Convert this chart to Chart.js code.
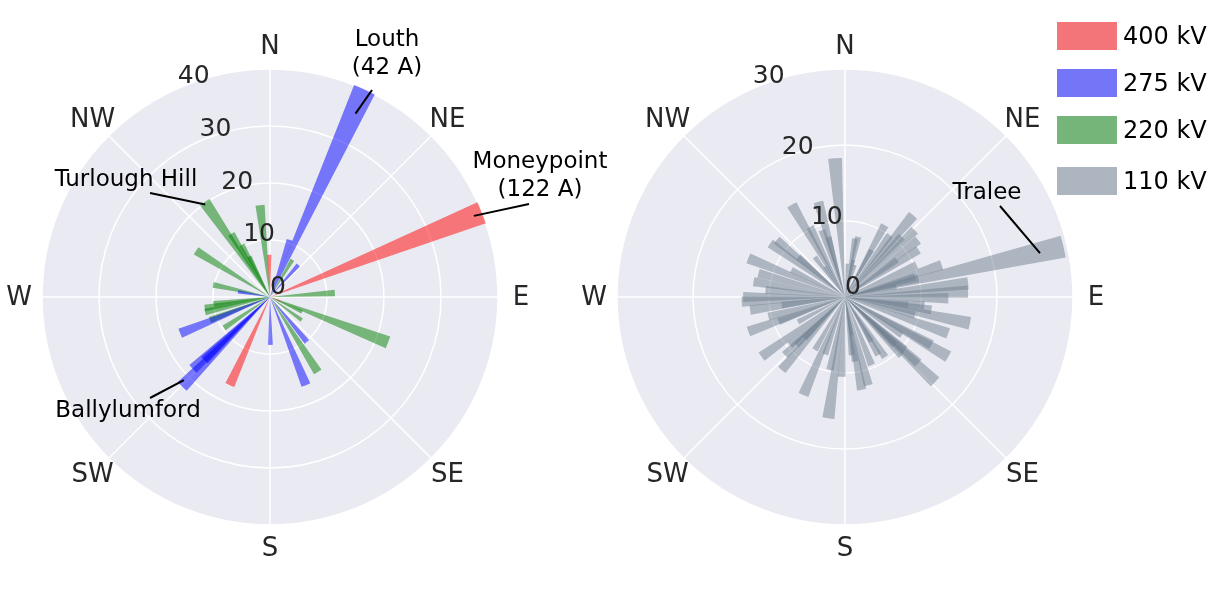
<!DOCTYPE html>
<html>
<head>
<meta charset="utf-8">
<script src="https://cdn.jsdelivr.net/npm/chart.js@4.4.0/dist/chart.umd.min.js"></script>
<style>
  html, body { margin: 0; padding: 0; background: #fff; }
  body { width: 1221px; height: 592px; position: relative; overflow: hidden; font-family: 'DejaVu Sans', sans-serif; }
  canvas { position: absolute; top: 0; }
  #leftChart { left: 0; }
  #rightChart { left: 575px; }
  .key { position: absolute; left: 1057px; width: 60px; height: 28px; }
  .keyText { position: absolute; left: 1123px; height: 28px; line-height: 28px; font-size: 24px; color: #000; }
</style>
</head>
<body>
<canvas id="leftChart" width="630" height="592"></canvas>
<canvas id="rightChart" width="540" height="592"></canvas>
<div id="legend"></div>
<script>
// compass directions and radial ticks
const compassLabels = ['N', 'NE', 'E', 'SE', 'S', 'SW', 'W', 'NW'];
const leftTicks = [0, 10, 20, 30, 40];
const rightTicks = [0, 10, 20, 30];

// bars: direction (degrees from north, clockwise) and current (A)
const kv400Angles = [359, 68.3, 204.5, 112];
const kv400Values = [7.4, 122, 17, 2];

const kv275Angles = [24.5, 19, 41.5, 179.5, 140.5, 157.8, 248, 224.5, 227, 226, 279];
const kv275Values = [42, 10.6, 7.5, 8.4, 10.2, 16.7, 17, 22, 18.5, 16, 5.7];

const kv220Angles = [325.5, 328.5, 331.5, 333, 353.8, 302, 282, 31, 86.5, 111, 147.5, 115, 126, 236, 249, 257, 260.5, 263];
const kv220Values = [20.2, 13, 10.4, 8, 16.2, 15.3, 10.2, 7.6, 11.4, 22.2, 15.6, 6.2, 6.9, 9.7, 11.3, 11.7, 11.6, 10];

const kv110Angles = [
  355.9, 344.4, 330, 333.5, 341, 344.5, 305.6, 309.8, 291.8, 285.3, 279.5, 275, 270, 296.9, 326.6,
  4, 12.4, 9.7, 12.6, 29, 36, 39.8, 46.3, 52.1, 57.3, 43.2, 71.7, 65.9, 77, 83.7, 87.5, 75.7, 78.7,
  90.7, 96, 97.2, 267.4, 262.2, 255.6, 250.3, 249.7, 234.4, 226, 220.9, 225.2, 203, 209.5, 187.8,
  182.4, 191.6, 169.8, 165.2, 158.6, 146.2, 150.1, 133.3, 132.1, 120, 109.4, 101.9, 118.9, 98.5,
  131.5, 133.8, 228.9, 171.2, 170, 135.7,
  323, 310.8, 17.4, 29.6, 54.4, 73.8, 199, 173.4, 224, 123.8, 242.1, 149.2, 104.4, 262.8
];
const kv110Values = [
  18.3, 13, 14, 10.3, 9.3, 8.2, 12.1, 11.7, 13.7, 11.8, 12.2, 10.5, 13.4, 7.9, 4.8,
  4.4, 8.1, 7.8, 5, 10.8, 10.1, 14, 12.7, 12.2, 11.5, 10.9, 13.4, 10.3, 29.5, 16.3, 16.2, 10, 6.9,
  13.6, 10.5, 8.4, 13.6, 12.6, 10.4, 13.5, 9.3, 13.5, 11, 12.7, 9, 14, 8, 16.1,
  10.5, 9.8, 12.4, 12, 9.6, 9.5, 8.8, 16.3, 13, 15.7, 14.4, 16.8, 13, 11.5,
  10.5, 9.1, 9.6, 8.6, 5.1, 10.7,
  6.6, 8.1, 4.4, 7.1, 8.4, 9.6, 8, 7.7, 7.6, 9, 7, 6.8, 9.5, 8.4
];

const legendLabels = ['400 kV', '275 kV', '220 kV', '110 kV'];
const legendColors = ['#f47579', '#7575f8', '#75b579', '#adb5c1'];
const barColors = ['rgba(255,0,0,0.5)', 'rgba(0,0,255,0.5)', 'rgba(0,128,0,0.5)', 'rgba(112,128,144,0.5)'];

const BAR_WIDTH = 5.7;
const FONT = '"DejaVu Sans", sans-serif';

// each bar is its own dataset: [gap, bar, rest of circle]
function barDatasets(angles, values, color, rMax) {
  return angles.map((a, i) => {
    let start = a - BAR_WIDTH / 2;
    if (start < 0) start += 360;
    const angs = [Math.max(start, 0.01), BAR_WIDTH, Math.max(360 - start - BAR_WIDTH, 0.01)];
    return {
      data: [0, Math.min(values[i], rMax), 0],
      angle: (ctx) => angs[ctx.dataIndex],
      backgroundColor: color,
      borderWidth: 0
    };
  });
}

function polarPos(scale, deg, dist) {
  const rad = (deg - 90) * Math.PI / 180;
  return { x: scale.xCenter + Math.cos(rad) * dist, y: scale.yCenter + Math.sin(rad) * dist };
}

function overlay(ticks, notes) {
  return {
    id: 'overlay',
    afterDraw(chart) {
      const s = chart.scales.r;
      const ctx = chart.ctx;
      ctx.save();
      ctx.fillStyle = '#262626';
      ctx.font = '26px ' + FONT;
      ctx.textAlign = 'center';
      ctx.textBaseline = 'middle';
      compassLabels.forEach((lab, i) => {
        const p = s.getPointPosition(i, s.drawingArea + 23);
        ctx.fillText(lab, p.x, p.y + 1);
      });

      ctx.font = '25px ' + FONT;
      ctx.textAlign = 'left';
      ctx.textBaseline = 'alphabetic';
      ticks.forEach(t => {
        const p = polarPos(s, 337.5, s.getDistanceFromCenterForValue(t));
        ctx.fillText(String(t), p.x - (t === 0 ? 0 : 5), p.y - 3);
      });

      ctx.fillStyle = '#000';
      ctx.strokeStyle = '#000';
      ctx.lineWidth = 2;
      ctx.font = '23px ' + FONT;
      ctx.textAlign = 'center';
      ctx.textBaseline = 'middle';
      notes.forEach(n => {
        n.lines.forEach((txt, k) => {
          ctx.fillText(txt, s.xCenter + n.tx, s.yCenter + n.ty + k * 28);
        });
        const end = polarPos(s, n.angle, s.getDistanceFromCenterForValue(n.value));
        ctx.beginPath();
        ctx.moveTo(s.xCenter + n.lx, s.yCenter + n.ly);
        ctx.lineTo(end.x, end.y);
        ctx.stroke();
      });
      ctx.restore();
    }
  };
}

function makeChart(id, datasets, rMax, ticks, notes, padRight) {
  return new Chart(document.getElementById(id), {
    type: 'polarArea',
    data: { labels: compassLabels, datasets: datasets },
    options: {
      responsive: false,
      animation: false,
      events: [],
      layout: { padding: { left: 42, right: padRight, top: 69, bottom: 67 } },
      plugins: { legend: { display: false }, tooltip: { enabled: false } },
      scales: {
        r: {
          min: 0,
          max: rMax,
          backgroundColor: '#eaeaf2',
          ticks: { display: false, stepSize: 10 },
          grid: { color: '#ffffff', lineWidth: 1.5, circular: true },
          angleLines: { display: true, color: '#ffffff', lineWidth: 1.5 },
          pointLabels: { display: false }
        }
      }
    },
    plugins: [overlay(ticks, notes)]
  });
}

const leftNotes = [
  { lines: ['Louth', '(42 A)'], tx: 117, ty: -257, lx: 102, ly: -207, angle: 25, value: 35.5 },
  { lines: ['Moneypoint', '(122 A)'], tx: 270, ty: -135, lx: 259, ly: -93, angle: 68.3, value: 38.5 },
  { lines: ['Turlough Hill'], tx: -144, ty: -117, lx: -120, ly: -104, angle: 325, value: 19.8 },
  { lines: ['Ballylumford'], tx: -142, ty: 114, lx: -120, ly: 101, angle: 226, value: 21 }
];
const rightNotes = [
  { lines: ['Tralee'], tx: 142, ty: -104, lx: 155, ly: -91, angle: 77.3, value: 26.3 }
];

makeChart('leftChart', [].concat(
  barDatasets(kv400Angles, kv400Values, barColors[0], 40),
  barDatasets(kv275Angles, kv275Values, barColors[1], 40),
  barDatasets(kv220Angles, kv220Values, barColors[2], 40)
), 40, leftTicks, leftNotes, 132);

makeChart('rightChart', barDatasets(kv110Angles, kv110Values, barColors[3], 30), 30, rightTicks, rightNotes, 42);

// legend
const legendTops = [22, 69, 116, 167];
const legend = document.getElementById('legend');
legendLabels.forEach((lab, i) => {
  const box = document.createElement('div');
  box.className = 'key';
  box.style.top = legendTops[i] + 'px';
  box.style.background = legendColors[i];
  legend.appendChild(box);
  const txt = document.createElement('div');
  txt.className = 'keyText';
  txt.style.top = legendTops[i] + 'px';
  txt.textContent = lab;
  legend.appendChild(txt);
});
</script>
</body>
</html>
